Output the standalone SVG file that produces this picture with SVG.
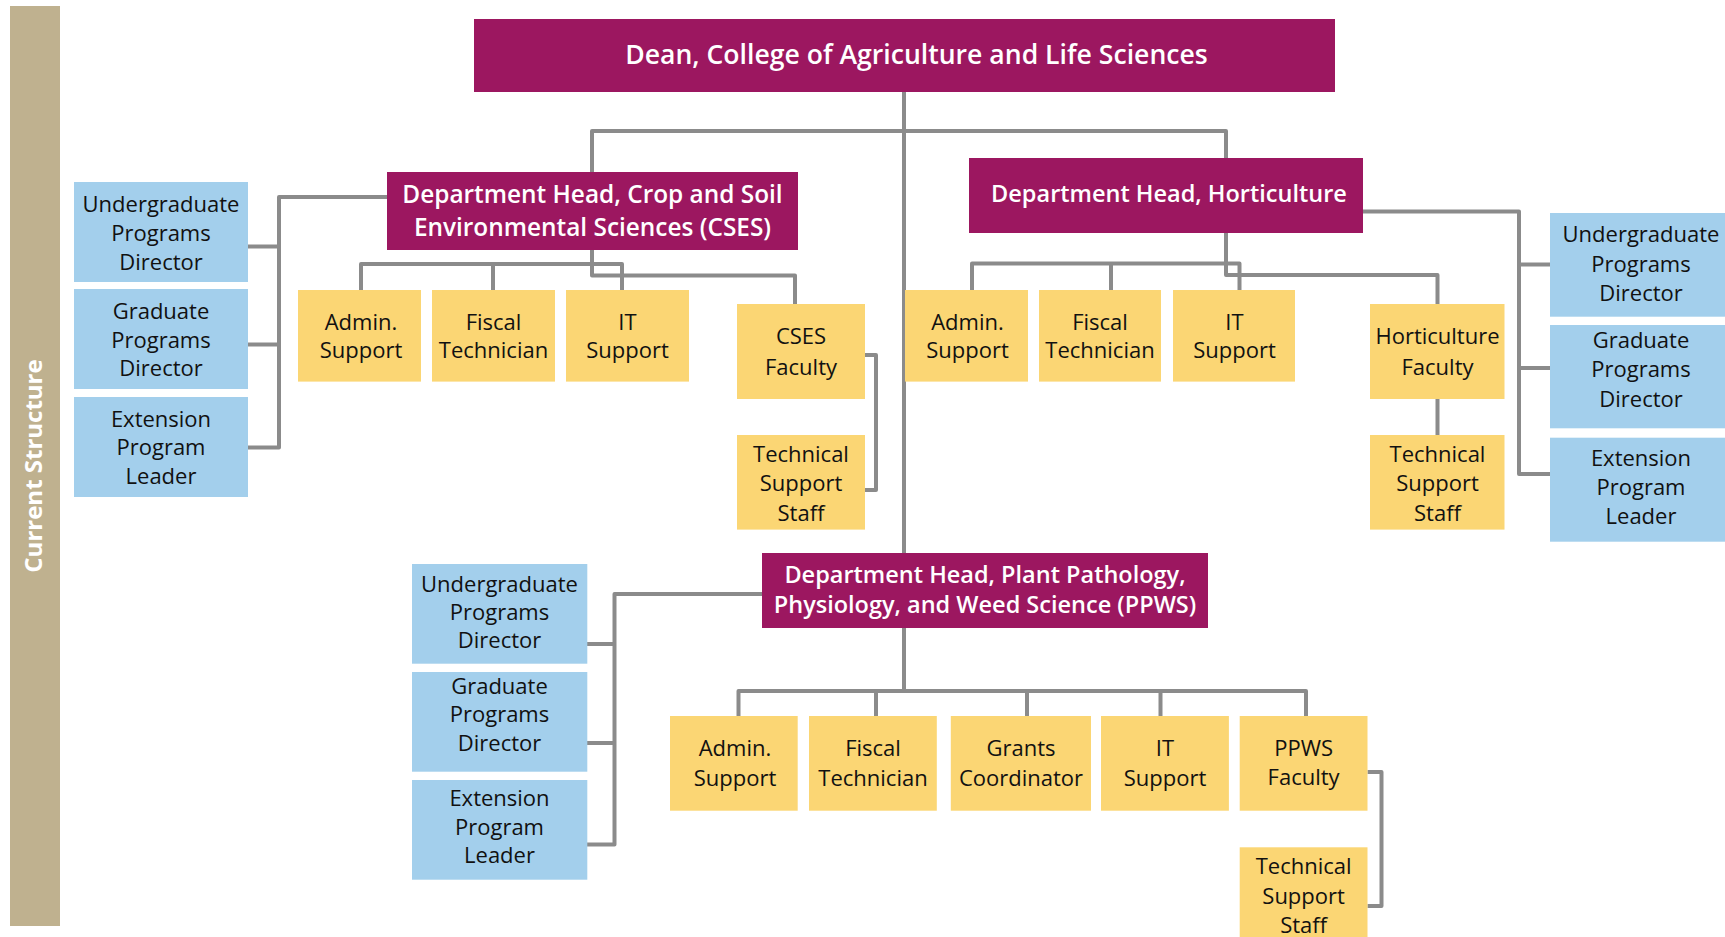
<svg xmlns="http://www.w3.org/2000/svg" width="1725" height="937" viewBox="0 0 1725 937">
<style>
.head{fill:#9c1760}
.blue{fill:#a3cfec}
.yel{fill:#fbd674}
.ht{font-family:"Open Sans","Liberation Sans",sans-serif;font-weight:600;fill:#ffffff;text-anchor:middle}
.bt{font-family:"Open Sans","Liberation Sans",sans-serif;font-size:22px;fill:#111111;text-anchor:middle}
.conn path{fill:none;stroke:#8b8b8b;stroke-width:4;stroke-linejoin:round}
</style>
<rect width="1725" height="937" fill="#ffffff"/>
<g id="label">
<rect x="10" y="6" width="50" height="920" fill="#bfb18f"/>
<text transform="translate(42,466) rotate(-90)" font-family="'Open Sans','Liberation Sans',sans-serif" font-weight="700" font-size="24" fill="#ffffff" text-anchor="middle">Current Structure</text>
</g>
<g class="conn" id="connectors">
<path d="M904 92V553"/>
<path d="M592 172V131H1226V158"/>
<path d="M387 197H279V447.5H248M279 246.5H248M279 344.5H248"/>
<path d="M592 250V275.5H795V304"/>
<path d="M361 290V264H622V290M493 264V290"/>
<path d="M865 355H876V490H865"/>
<path d="M1363 211.5H1519V474H1550M1519 264.5H1550M1519 368H1550"/>
<path d="M1226 233V275H1437.5V304"/>
<path d="M972 290V263.5H1239.5V290M1111 263.5V290"/>
<path d="M1437.5 399V435"/>
<path d="M762 594H614.5V844.5H587M614.5 644H587M614.5 743H587"/>
<path d="M904 628V691"/>
<path d="M738.5 716V691H1306V716M876 691V716M1027 691V716M1160.5 691V716"/>
<path d="M1367.5 772H1381.5V906H1367.5"/>
</g>
<g id="dean">
<rect class="head" x="474" y="19" width="861" height="73"/>
<text class="ht" x="916.5" y="63.7" font-size="26.6">Dean, College of Agriculture and Life Sciences</text>
</g>
<g id="cses-head">
<rect class="head" x="387" y="172" width="411" height="78"/>
<text class="ht" x="592.5" y="202.5" font-size="24.4">Department Head, Crop and Soil</text>
<text class="ht" x="592.5" y="236" font-size="24.4">Environmental Sciences (CSES)</text>
</g>
<g id="hort-head">
<rect class="head" x="969" y="158" width="394" height="75"/>
<text class="ht" x="1169" y="201.5" font-size="23.5">Department Head, Horticulture</text>
</g>
<g id="ppws-head">
<rect class="head" x="762" y="553" width="446" height="75"/>
<text class="ht" x="985" y="582.7" font-size="23.5">Department Head, Plant Pathology,</text>
<text class="ht" x="985" y="612.7" font-size="23.5">Physiology, and Weed Science (PPWS)</text>
</g>
<g id="cses-ugpd">
<rect class="blue" x="74" y="182" width="174" height="100"/>
<text class="bt" x="161" y="211.8">Undergraduate</text>
<text class="bt" x="161" y="241">Programs</text>
<text class="bt" x="161" y="269.6">Director</text>
</g>
<g id="cses-gpd">
<rect class="blue" x="74" y="289" width="174" height="100"/>
<text class="bt" x="161" y="318.5">Graduate</text>
<text class="bt" x="161" y="347.5">Programs</text>
<text class="bt" x="161" y="376.4">Director</text>
</g>
<g id="cses-epl">
<rect class="blue" x="74" y="397" width="174" height="100"/>
<text class="bt" x="161" y="427">Extension</text>
<text class="bt" x="161" y="455">Program</text>
<text class="bt" x="161" y="483.5">Leader</text>
</g>
<g id="cses-admin">
<rect class="yel" x="298" y="290" width="123" height="91.6"/>
<text class="bt" x="361" y="330">Admin.</text>
<text class="bt" x="361" y="358">Support</text>
</g>
<g id="cses-fiscal">
<rect class="yel" x="432" y="290" width="123" height="91.6"/>
<text class="bt" x="493.5" y="330">Fiscal</text>
<text class="bt" x="493.5" y="358">Technician</text>
</g>
<g id="cses-it">
<rect class="yel" x="566" y="290" width="123" height="91.6"/>
<text class="bt" x="627.5" y="330">IT</text>
<text class="bt" x="627.5" y="358">Support</text>
</g>
<g id="cses-faculty">
<rect class="yel" x="737" y="304" width="128" height="95"/>
<text class="bt" x="801" y="344.4">CSES</text>
<text class="bt" x="801" y="374.7">Faculty</text>
</g>
<g id="cses-tech">
<rect class="yel" x="737" y="435" width="128" height="94.6"/>
<text class="bt" x="801" y="461.5">Technical</text>
<text class="bt" x="801" y="491">Support</text>
<text class="bt" x="801" y="520.5">Staff</text>
</g>
<g id="hort-admin">
<rect class="yel" x="905" y="290" width="123" height="91.6"/>
<text class="bt" x="967.5" y="330">Admin.</text>
<text class="bt" x="967.5" y="358">Support</text>
</g>
<g id="hort-fiscal">
<rect class="yel" x="1039" y="290" width="122" height="91.6"/>
<text class="bt" x="1100" y="330">Fiscal</text>
<text class="bt" x="1100" y="358">Technician</text>
</g>
<g id="hort-it">
<rect class="yel" x="1173" y="290" width="122" height="91.6"/>
<text class="bt" x="1234.5" y="330">IT</text>
<text class="bt" x="1234.5" y="358">Support</text>
</g>
<g id="hort-faculty">
<rect class="yel" x="1370" y="304" width="134.5" height="95"/>
<text class="bt" x="1437.5" y="344.4">Horticulture</text>
<text class="bt" x="1437.5" y="374.7">Faculty</text>
</g>
<g id="hort-tech">
<rect class="yel" x="1370" y="435" width="134.5" height="94.6"/>
<text class="bt" x="1437.5" y="461.5">Technical</text>
<text class="bt" x="1437.5" y="491">Support</text>
<text class="bt" x="1437.5" y="520.5">Staff</text>
</g>
<g id="hort-ugpd">
<rect class="blue" x="1550" y="213" width="175" height="103.7"/>
<text class="bt" x="1641" y="242.3">Undergraduate</text>
<text class="bt" x="1641" y="271.7">Programs</text>
<text class="bt" x="1641" y="300.7">Director</text>
</g>
<g id="hort-gpd">
<rect class="blue" x="1550" y="325" width="175" height="103.3"/>
<text class="bt" x="1641" y="347.7">Graduate</text>
<text class="bt" x="1641" y="377.3">Programs</text>
<text class="bt" x="1641" y="406.7">Director</text>
</g>
<g id="hort-epl">
<rect class="blue" x="1550" y="437.7" width="175" height="104"/>
<text class="bt" x="1641" y="465.7">Extension</text>
<text class="bt" x="1641" y="495">Program</text>
<text class="bt" x="1641" y="524.3">Leader</text>
</g>
<g id="ppws-ugpd">
<rect class="blue" x="412" y="564" width="175.3" height="99.7"/>
<text class="bt" x="499.5" y="591.7">Undergraduate</text>
<text class="bt" x="499.5" y="620">Programs</text>
<text class="bt" x="499.5" y="648.3">Director</text>
</g>
<g id="ppws-gpd">
<rect class="blue" x="412" y="672" width="175.3" height="99.7"/>
<text class="bt" x="499.5" y="693.5">Graduate</text>
<text class="bt" x="499.5" y="722">Programs</text>
<text class="bt" x="499.5" y="750.5">Director</text>
</g>
<g id="ppws-epl">
<rect class="blue" x="412" y="780" width="175.3" height="99.7"/>
<text class="bt" x="499.5" y="806">Extension</text>
<text class="bt" x="499.5" y="834.5">Program</text>
<text class="bt" x="499.5" y="863">Leader</text>
</g>
<g id="ppws-admin">
<rect class="yel" x="670" y="716" width="127.7" height="94.7"/>
<text class="bt" x="735" y="756">Admin.</text>
<text class="bt" x="735" y="786">Support</text>
</g>
<g id="ppws-fiscal">
<rect class="yel" x="809" y="716" width="127.8" height="94.7"/>
<text class="bt" x="873" y="756">Fiscal</text>
<text class="bt" x="873" y="786">Technician</text>
</g>
<g id="ppws-grants">
<rect class="yel" x="950.8" y="716" width="140.2" height="94.7"/>
<text class="bt" x="1021" y="756">Grants</text>
<text class="bt" x="1021" y="786">Coordinator</text>
</g>
<g id="ppws-it">
<rect class="yel" x="1101" y="716" width="127.9" height="94.7"/>
<text class="bt" x="1165" y="756">IT</text>
<text class="bt" x="1165" y="786">Support</text>
</g>
<g id="ppws-faculty">
<rect class="yel" x="1239.7" y="716" width="127.8" height="94.7"/>
<text class="bt" x="1303.6" y="755.7">PPWS</text>
<text class="bt" x="1303.6" y="785">Faculty</text>
</g>
<g id="ppws-tech">
<rect class="yel" x="1239.7" y="847.3" width="127.8" height="89.7"/>
<text class="bt" x="1303.6" y="874.3">Technical</text>
<text class="bt" x="1303.6" y="904">Support</text>
<text class="bt" x="1303.6" y="933.3">Staff</text>
</g>
</svg>
